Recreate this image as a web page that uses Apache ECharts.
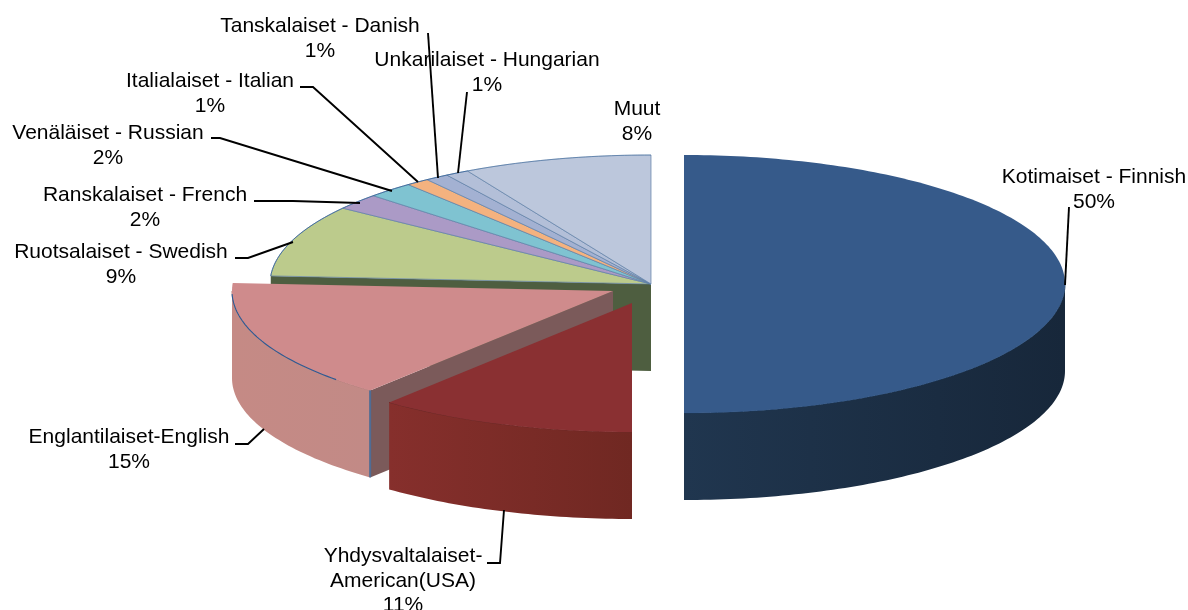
<!DOCTYPE html>
<html><head><meta charset="utf-8">
<style>html,body{margin:0;padding:0;background:#fff}#c{width:1188px;height:610px}</style>
<script src="https://cdn.jsdelivr.net/npm/echarts@6/dist/echarts.min.js"></script>
</head><body><div id="c"></div>
<script>
// ---- data ----
const categories = ['Kotimaiset - Finnish','Yhdysvaltalaiset-\nAmerican(USA)','Englantilaiset-English','Ruotsalaiset - Swedish','Ranskalaiset - French','Venäläiset - Russian','Italialaiset - Italian','Tanskalaiset - Danish','Unkarilaiset - Hungarian','Muut'];
const shares = [50,11,15,9,2,2,1,1,1,8];

// ---- look and layout ----
const RX = 381, RY = 129, DEPTH = 87, CX = 651, CY = 284;
const explode = [[33,0],[-19,19],[-38,7],[0,0],[0,0],[0,0],[0,0],[0,0],[0,0],[0,0]];
const topColors = ['#365a8a','#8a3032','#cf8b8c','#bccb8c','#ab9ac6','#7fc3d1','#f4b27f','#a3b1d2','#b3bfd8','#bcc7dc'];
const wallA = ['#20364f','#862f2c','#c58a85','#4e5e40','#4e5e40','#4e5e40','#4e5e40','#4e5e40','#4e5e40','#4e5e40'];
const wallB = ['#17273a','#702822','#c28a86','#4e5e40','#4e5e40','#4e5e40','#4e5e40','#4e5e40','#4e5e40','#4e5e40'];
const cutColor = [null,null,'#7b5a5a','#4e5e40',null,null,null,null,null,null];
const drawRank = [1,8,6,3,3,3,3,3,3,3];
const labelAt = [[1094,177],[403,556],[129,437],[121,252],[145,195],[108,133],[210,81],[320,26],[487,60],[637,109]];
const leaders = [
  [[1069,207],[1065,285]],
  [[487,563],[500,563],[504,510]],
  [[235,444],[248,444],[264,429]],
  [[235,258],[248,258],[293,242]],
  [[254,201],[293,201],[360,203]],
  [[211,138],[220,138],[392,191]],
  [[300,87],[313,87],[418,182]],
  [[428,33],[438,178]],
  [[467,92],[458,173]],
  []
];
const FONT = '"Liberation Sans", Arial, sans-serif';
const LINE = 24.8;
const total = shares.reduce((a,b)=>a+b,0);

function rimPoint(cx,cy,deg){
  const t = deg*Math.PI/180;
  return [cx+RX*Math.sin(t), cy-RY*Math.cos(t)];
}
function arcPoints(cx,cy,a,b){
  const pts=[]; const n=Math.max(2,Math.ceil(Math.abs(b-a)));
  for(let i=0;i<=n;i++) pts.push(rimPoint(cx,cy,a+(b-a)*i/n));
  return pts;
}
function renderSlice(params, api){
  const i = params.dataIndex;
  let before = 0;
  for(let k=0;k<i;k++) before += shares[k];
  const v = api.value(0);
  const a = before/total*360, b = (before+v)/total*360;
  const cx = CX+explode[i][0], cy = CY+explode[i][1];
  const base = drawRank[i]*10;
  const kids = [];
  // cut face on the start side
  if(cutColor[i]){
    const p = rimPoint(cx,cy,a);
    kids.push({type:'polygon',z2:base,shape:{points:[[cx,cy],p,[p[0],p[1]+DEPTH],[cx,cy+DEPTH]]},style:{fill:cutColor[i]}});
  }
  // outer wall, only the part that faces the viewer
  const wa = Math.max(a,90), wb = Math.min(b,270);
  if(wb>wa){
    const rim = arcPoints(cx,cy,wa,wb);
    const low = rim.map(p=>[p[0],p[1]+DEPTH]).reverse();
    kids.push({type:'polygon',z2:base+1,shape:{points:rim.concat(low)},
      style:{fill:new echarts.graphic.LinearGradient(0,0,1,0,[{offset:0,color:wallA[i]},{offset:1,color:wallB[i]}])}});
    kids.push({type:'polyline',z2:base+2,shape:{points:rim},style:{fill:null,stroke:i===1?'#6e2826':(i===2?'#b57e7c':'#1d3a5c'),lineWidth:1}});
  }
  // top
  const arc = arcPoints(cx,cy,a,b);
  const isBack = i>=3;
  kids.push({type:'polygon',z2:base+3,shape:{points:[[cx,cy]].concat(arc)},
    style:{fill:topColors[i],stroke:isBack?'#5f7fa6':null,lineWidth:isBack?0.7:0}});
  if(isBack){
    kids.push({type:'polyline',z2:base+4,shape:{points:arc},style:{fill:null,stroke:'#2f5f96',lineWidth:0.9,opacity:i===9?0.4:0.8}});
  }
  if(i===2){
    kids.push({type:'polyline',z2:base+4,shape:{points:arcPoints(cx,cy,a+7,b-5)},style:{fill:null,stroke:'#2c5a94',lineWidth:1.1}});
    const p = rimPoint(cx,cy,a);
    kids.push({type:'line',z2:base+4,shape:{x1:p[0],y1:p[1],x2:p[0],y2:p[1]+DEPTH},style:{stroke:'#4f6c94',lineWidth:2}});
  }
  // leader
  if(leaders[i].length){
    kids.push({type:'polyline',z2:200,shape:{points:leaders[i]},style:{fill:null,stroke:'#000',lineWidth:1.9}});
  }
  // label
  kids.push({type:'text',z2:210,x:labelAt[i][0],y:labelAt[i][1]-LINE/2,
    style:{text:categories[i]+'\n'+v+'%',x:0,y:0,align:'center',verticalAlign:'top',fill:'#000',
      font:'21px '+FONT,lineHeight:LINE}});
  return {type:'group',children:kids};
}
const chart = echarts.init(document.getElementById('c'),null,{renderer:'canvas'});
chart.setOption({
  animation:false,
  backgroundColor:'#fff',
  series:[{type:'custom',coordinateSystem:'none',renderItem:renderSlice,
    data:shares.map(function(v,i){return {name:categories[i],value:[v]};}),silent:true}]
});
</script></body></html>
